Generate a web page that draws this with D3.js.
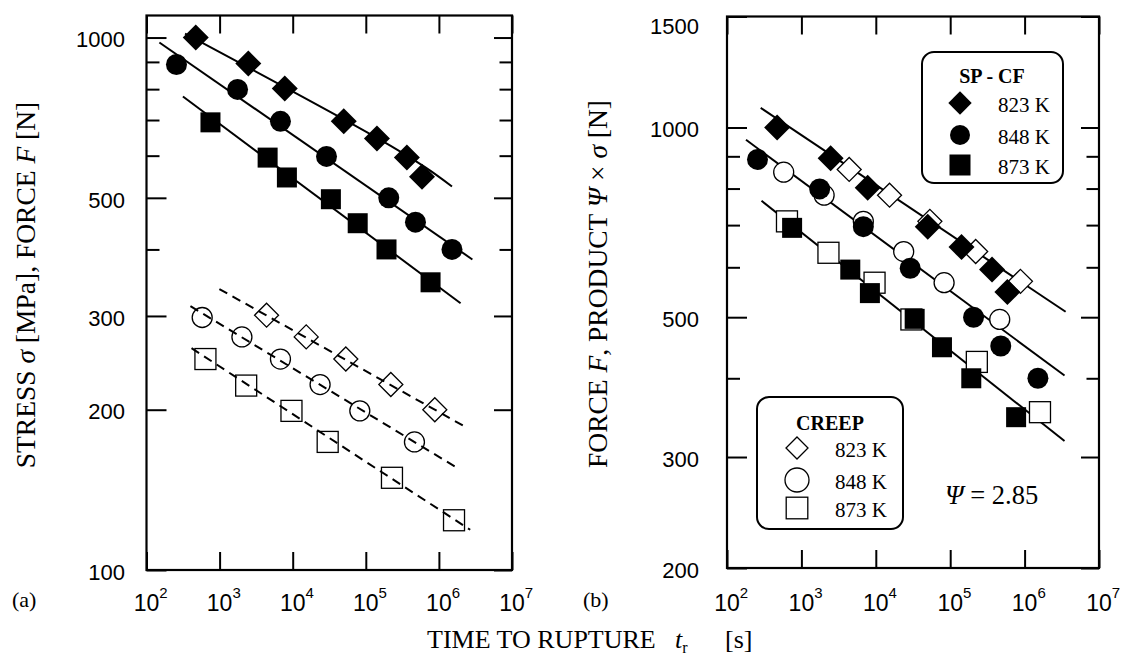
<!DOCTYPE html>
<html>
<head>
<meta charset="utf-8">
<script src="https://cdn.jsdelivr.net/npm/d3@7"></script>
<style>
  body { margin: 0; background: #fff; }
  .serif { font-family: "Liberation Serif", "Times New Roman", serif; }
</style>
</head>
<body>
<div class="canvas"></div>
<script>
// time to rupture [s], force / stress value
const spcf823 = [[472, 1000], [2470, 894], [7780, 802], [49900, 696], [142000, 646], [365000, 595], [587000, 548]];
const spcf848 = [[257, 890], [1760, 799], [6800, 696], [29000, 598], [206000, 500], [478000, 450], [1510000, 400]];
const spcf873 = [[750, 693], [4540, 595], [8330, 546], [33300, 497], [77500, 448], [192000, 400], [769000, 347]];
const creep823 = [[4390, 301], [15300, 274], [53300, 249], [220000, 223], [879000, 200]];
const creep848 = [[578, 298], [2020, 274], [6800, 249], [23700, 223], [82800, 199], [463000, 174]];
const creep873 = [[640, 249], [2310, 222], [9620, 199], [30100, 174], [228000, 149], [1610000, 124]];
const psi = 2.85;

// fitted lines (end points)
const fitLeftSP = [
  [[337, 1017], [142000, 648], [1510000, 525]],
  [[150, 979], [2870000, 383]],
  [[315, 775], [1980000, 317]]
];
const fitLeftCreep = [
  [[993, 337], [2420000, 185]],
  [[399, 313], [1850000, 155]],
  [[413, 261], [2680000, 119]]
];
const fitRight = [
  [[284, 1074], [3560000, 510]],
  [[180, 956], [3440000, 404]],
  [[291, 765], [3440000, 318]]
];

const decades = [1e2, 1e3, 1e4, 1e5, 1e6, 1e7];
const leftMajor = [100, 200, 300, 500, 1000];
const rightMajor = [200, 300, 500, 1000, 1500];
const minorTicks = [400, 600, 700, 800, 900];
const temps = ['823 K', '848 K', '873 K'];
const shapes = ['diamond', 'circle', 'square'];

const svg = d3.select('.canvas')
  .append('svg')
  .attr('width', 1125)
  .attr('height', 659);

const SANS = '"Liberation Sans", Arial, sans-serif';

const xL = d3.scaleLog().domain([1e2, 1e7]).range([146.5, 512]);
const yL = d3.scaleLog().domain([100, 1100]).range([570, 15.5]);
const xR = d3.scaleLog().domain([1e2, 1e7]).range([727, 1099]);
const yR = d3.scaleLog().domain([200, 1500]).range([568, 16.5]);

function marker(g, shape, cx, cy, s, filled, fill) {
  const m = g.append('g').attr('transform', `translate(${cx},${cy})`);
  let el;
  if (shape === 'circle') {
    el = m.append('circle').attr('r', s);
  } else if (shape === 'square') {
    el = m.append('rect').attr('x', -s).attr('y', -s).attr('width', 2 * s).attr('height', 2 * s);
  } else {
    el = m.append('path').attr('d', `M0,${-s}L${s},0L0,${s}L${-s},0Z`);
  }
  if (filled) el.attr('fill', '#000');
  else el.attr('fill', fill).attr('stroke', '#000').attr('stroke-width', 1.3);
}

function panel(x, y, major, labelPad) {
  const [x0, x1] = x.range();
  const [y0, y1] = y.range();
  const g = svg.append('g');

  const style = sel => {
    sel.select('.domain').remove();
    sel.selectAll('line').attr('stroke-width', 2);
    sel.selectAll('text').attr('font-family', SANS).attr('font-size', 22).attr('fill', '#000');
  };

  g.append('g').attr('transform', `translate(${x0},0)`)
    .call(d3.axisLeft(y).tickValues(major).tickSize(-20).tickPadding(labelPad).tickFormat(d3.format('d')))
    .call(style)
    .selectAll('text').attr('dy', d => d === 1500 ? '0.75em' : '0.42em');
  g.append('g').attr('transform', `translate(${x0},0)`)
    .call(d3.axisLeft(y).tickValues(minorTicks).tickSize(-13).tickFormat(''))
    .call(style);
  g.append('g').attr('transform', `translate(${x1},0)`)
    .call(d3.axisRight(y).tickValues(major).tickSize(-18).tickFormat(''))
    .call(style);
  g.append('g').attr('transform', `translate(${x1},0)`)
    .call(d3.axisRight(y).tickValues(minorTicks).tickSize(-12.5).tickFormat(''))
    .call(style);
  g.append('g').attr('transform', `translate(0,${y0})`)
    .call(d3.axisBottom(x).tickValues(decades).tickSize(-18).tickFormat(''))
    .call(style);
  g.append('g').attr('transform', `translate(0,${y1})`)
    .call(d3.axisTop(x).tickValues(decades).tickSize(-18).tickFormat(''))
    .call(style);

  // decade labels 10^n
  const lab = g.selectAll('.xl').data(decades).enter()
    .append('text')
    .attr('x', d => x(d) - 12.8)
    .attr('y', 611)
    .attr('font-family', SANS)
    .attr('font-size', 23);
  lab.append('tspan').text('10');
  lab.append('tspan').attr('dy', -13).attr('font-size', 15).text(d => Math.round(Math.log10(d)));

  g.append('rect')
    .attr('x', x0).attr('y', y1)
    .attr('width', x1 - x0).attr('height', y0 - y1)
    .attr('fill', 'none').attr('stroke', '#000').attr('stroke-width', 2.2);
  return g;
}

const line = (x, y) => d3.line().x(d => x(d[0])).y(d => y(d[1])).curve(d3.curveNatural);

// ---- panel (a)
const gA = panel(xL, yL, leftMajor, 21.5);
fitLeftSP.forEach(f => {
  gA.append('path').attr('d', line(xL, yL)(f))
    .attr('fill', 'none').attr('stroke', '#000').attr('stroke-width', 2);
});
fitLeftCreep.forEach(f => {
  gA.append('path').attr('d', line(xL, yL)(f))
    .attr('fill', 'none').attr('stroke', '#000').attr('stroke-width', 2)
    .attr('stroke-dasharray', '9,6');
});
const spSize = { diamond: 13, circle: 10.5, square: 10 };
const crSize = { diamond: 12, circle: 10, square: 10.5 };
[spcf823, spcf848, spcf873].forEach((s, i) => {
  s.forEach(d => marker(gA, shapes[i], xL(d[0]), yL(d[1]), spSize[shapes[i]], true));
});
[creep823, creep848, creep873].forEach((s, i) => {
  s.forEach(d => marker(gA, shapes[i], xL(d[0]), yL(d[1]), crSize[shapes[i]], false, 'none'));
});

// ---- panel (b)
const gB = panel(xR, yR, rightMajor, 28);
fitRight.forEach(f => {
  gB.append('path').attr('d', line(xR, yR)(f))
    .attr('fill', 'none').attr('stroke', '#000').attr('stroke-width', 2);
});
[creep823, creep848, creep873].forEach((s, i) => {
  s.forEach(d => marker(gB, shapes[i], xR(d[0]), yR(d[1] * psi), crSize[shapes[i]], false, '#fff'));
});
[spcf823, spcf848, spcf873].forEach((s, i) => {
  s.forEach(d => marker(gB, shapes[i], xR(d[0]), yR(d[1]), spSize[shapes[i]], true));
});

// legends
function legend(bx, by, bw, bh, title, titleX, titleY, mx, ys, lx, filled, sizes) {
  const g = svg.append('g').attr('class', 'serif');
  g.append('rect').attr('x', bx).attr('y', by).attr('width', bw).attr('height', bh)
    .attr('rx', 12).attr('fill', '#fff').attr('stroke', '#000').attr('stroke-width', 2);
  g.append('text').attr('x', titleX).attr('y', titleY).attr('text-anchor', 'middle')
    .attr('font-weight', 'bold').attr('font-size', 20).text(title);
  temps.forEach((t, i) => {
    marker(g, shapes[i], mx, ys[i], sizes[i], filled, '#fff');
    g.append('text').attr('x', lx).attr('y', ys[i] + 8.5).attr('font-size', 21).text(t);
  });
}
legend(922, 52, 141, 131, 'SP - CF', 992, 83, 960, [103, 135, 165], 998, true, [11.7, 10, 10.5]);
legend(757, 397, 146, 132, 'CREEP', 830, 430, 797, [448, 480, 508], 835, false, [11, 12, 10.8]);

const psiText = svg.append('text').attr('class', 'serif').attr('x', 945).attr('y', 504).attr('font-size', 26.5);
psiText.append('tspan').attr('font-style', 'italic').text('Ψ');
psiText.append('tspan').text(' = ' + psi.toFixed(2));

// panel tags
svg.append('text').attr('class', 'serif').attr('x', 12).attr('y', 607).attr('font-size', 22).text('(a)');
svg.append('text').attr('class', 'serif').attr('x', 583).attr('y', 607).attr('font-size', 22).text('(b)');

// axis titles
const yt1 = svg.append('text').attr('class', 'serif')
  .attr('transform', 'translate(35,285) rotate(-90)')
  .attr('text-anchor', 'middle').attr('font-size', 27.5);
yt1.append('tspan').text('STRESS ');
yt1.append('tspan').attr('font-style', 'italic').text('σ');
yt1.append('tspan').text(' [MPa], FORCE ');
yt1.append('tspan').attr('font-style', 'italic').text('F');
yt1.append('tspan').text(' [N]');

const yt2 = svg.append('text').attr('class', 'serif')
  .attr('transform', 'translate(607,284) rotate(-90)')
  .attr('text-anchor', 'middle').attr('font-size', 27.5);
yt2.append('tspan').text('FORCE ');
yt2.append('tspan').attr('font-style', 'italic').text('F');
yt2.append('tspan').text(', PRODUCT ');
yt2.append('tspan').attr('font-style', 'italic').text('Ψ');
yt2.append('tspan').text(' × ');
yt2.append('tspan').attr('font-style', 'italic').text('σ');
yt2.append('tspan').text(' [N]');

const xt = svg.append('g').attr('class', 'serif').attr('font-size', 26);
xt.append('text').attr('x', 427).attr('y', 648).text('TIME TO RUPTURE');
const tr = xt.append('text').attr('x', 675).attr('y', 648);
tr.append('tspan').attr('font-style', 'italic').text('t');
tr.append('tspan').attr('dy', 5).attr('font-size', 16).text('r');
xt.append('text').attr('x', 725).attr('y', 648).text('[s]');
</script>
</body>
</html>
